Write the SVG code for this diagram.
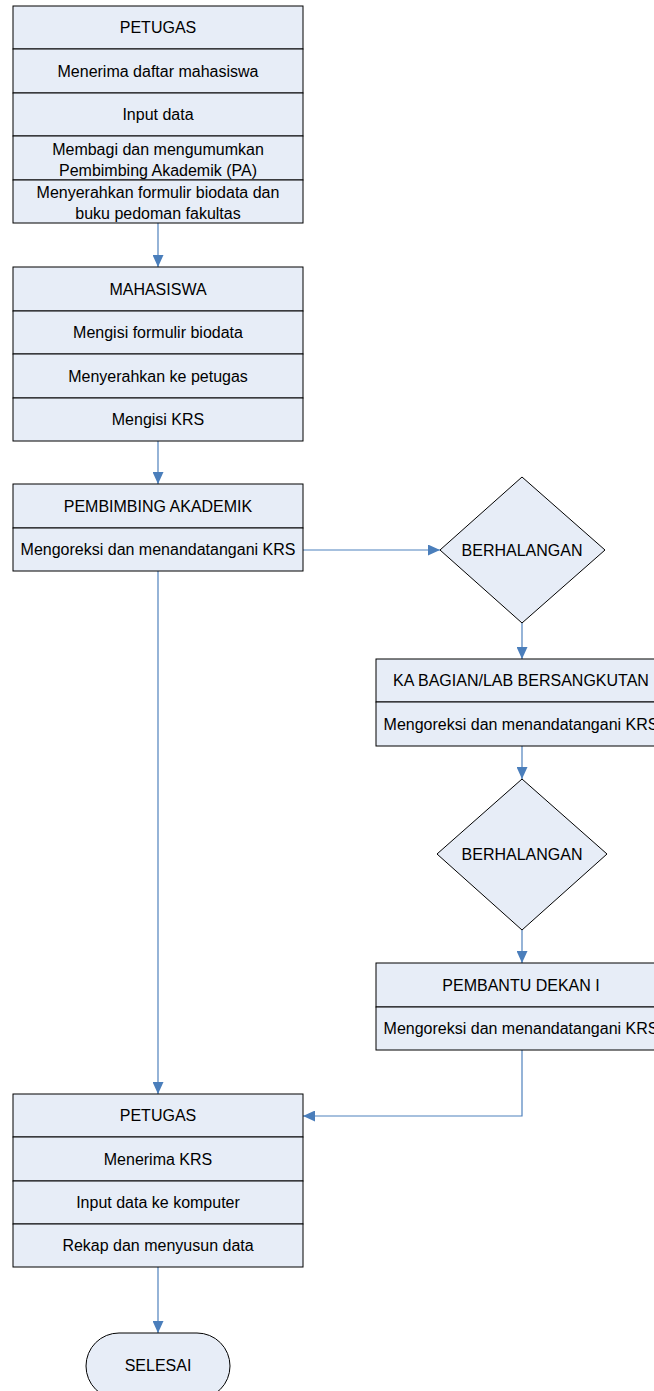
<svg xmlns="http://www.w3.org/2000/svg" width="654" height="1391" viewBox="0 0 654 1391">
<defs>
<style>
.b{fill:#E7EDF7;stroke:#000;stroke-width:1}
.t{font-family:"Liberation Sans",Arial,sans-serif;font-size:16px;fill:#000;text-anchor:middle}
.c{fill:none;stroke:#4F81BD;stroke-width:1.2}
</style>
<marker id="ah" markerUnits="userSpaceOnUse" markerWidth="12" markerHeight="11" refX="12" refY="5.5" orient="auto">
<path d="M0,0 L12,5.5 L0,11 z" fill="#4A7EBB"/>
</marker>
</defs>
<rect width="654" height="1391" fill="#fff"/>
<g id="connectors">
<path class="c" d="M158,223 V267" marker-end="url(#ah)"/>
<path class="c" d="M158,441 V484" marker-end="url(#ah)"/>
<path class="c" d="M303,550 H440" marker-end="url(#ah)"/>
<path class="c" d="M522,623 V659" marker-end="url(#ah)"/>
<path class="c" d="M522,746 V779" marker-end="url(#ah)"/>
<path class="c" d="M522,930 V963" marker-end="url(#ah)"/>
<path class="c" d="M522,1050 V1116 H303" marker-end="url(#ah)"/>
<path class="c" d="M158,571 V1094" marker-end="url(#ah)"/>
<path class="c" d="M158,1267 V1333" marker-end="url(#ah)"/>
</g>
<g id="petugas1">
<rect class="b" x="13" y="6" width="290" height="43"/>
<rect class="b" x="13" y="49" width="290" height="44"/>
<rect class="b" x="13" y="93" width="290" height="43"/>
<rect class="b" x="13" y="136" width="290" height="44"/>
<rect class="b" x="13" y="180" width="290" height="43"/>
<text class="t" x="158" y="33">PETUGAS</text>
<text class="t" x="158" y="77">Menerima daftar mahasiswa</text>
<text class="t" x="158" y="120">Input data</text>
<text class="t" x="158" y="155">Membagi dan mengumumkan</text>
<text class="t" x="158" y="176">Pembimbing Akademik (PA)</text>
<text class="t" x="158" y="198">Menyerahkan formulir biodata dan</text>
<text class="t" x="158" y="219">buku pedoman fakultas</text>
</g>
<g id="mahasiswa">
<rect class="b" x="13" y="267" width="290" height="44"/>
<rect class="b" x="13" y="311" width="290" height="43"/>
<rect class="b" x="13" y="354" width="290" height="44"/>
<rect class="b" x="13" y="398" width="290" height="43"/>
<text class="t" x="158" y="295">MAHASISWA</text>
<text class="t" x="158" y="338">Mengisi formulir biodata</text>
<text class="t" x="158" y="382">Menyerahkan ke petugas</text>
<text class="t" x="158" y="425">Mengisi KRS</text>
</g>
<g id="pa">
<rect class="b" x="13" y="484" width="290" height="44"/>
<rect class="b" x="13" y="528" width="290" height="43"/>
<text class="t" x="158" y="512">PEMBIMBING AKADEMIK</text>
<text class="t" x="158" y="555">Mengoreksi dan menandatangani KRS</text>
</g>
<g id="berhalangan1">
<path class="b" d="M522,477 L605,550 L522,623 L440,550 z"/>
<text class="t" x="522" y="556">BERHALANGAN</text>
</g>
<g id="kabagian">
<rect class="b" x="376" y="659" width="290" height="43"/>
<rect class="b" x="376" y="702" width="290" height="44"/>
<text class="t" x="521" y="686">KA BAGIAN/LAB BERSANGKUTAN</text>
<text class="t" x="521" y="730">Mengoreksi dan menandatangani KRS</text>
</g>
<g id="berhalangan2">
<path class="b" d="M522,779 L607,854 L522,930 L437,854 z"/>
<text class="t" x="522" y="860">BERHALANGAN</text>
</g>
<g id="pd1">
<rect class="b" x="376" y="963" width="290" height="44"/>
<rect class="b" x="376" y="1007" width="290" height="43"/>
<text class="t" x="521" y="991">PEMBANTU DEKAN I</text>
<text class="t" x="521" y="1034">Mengoreksi dan menandatangani KRS</text>
</g>
<g id="petugas2">
<rect class="b" x="13" y="1094" width="290" height="43"/>
<rect class="b" x="13" y="1137" width="290" height="44"/>
<rect class="b" x="13" y="1181" width="290" height="43"/>
<rect class="b" x="13" y="1224" width="290" height="43"/>
<text class="t" x="158" y="1121">PETUGAS</text>
<text class="t" x="158" y="1165">Menerima KRS</text>
<text class="t" x="158" y="1208">Input data ke komputer</text>
<text class="t" x="158" y="1251">Rekap dan menyusun data</text>
</g>
<g id="selesai">
<rect class="b" x="86" y="1333" width="144" height="66" rx="33" ry="33"/>
<text class="t" x="158" y="1371">SELESAI</text>
</g>
</svg>
